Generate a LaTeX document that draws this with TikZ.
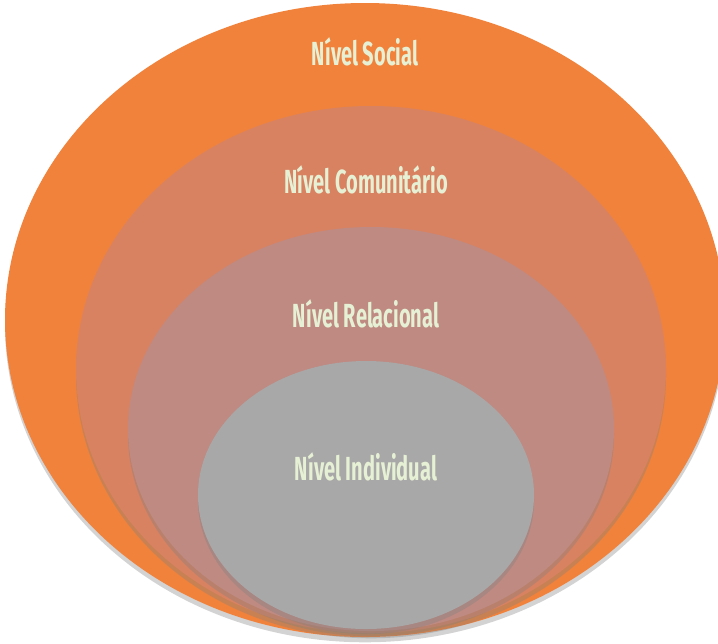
\documentclass[tikz,border=0pt]{standalone}
\usepackage{fontspec}
\newfontfamily\levelfont[FakeStretch=0.6]{Fira Sans}
\usetikzlibrary{shadows}

\definecolor{socialfill}{RGB}{240,130,60}
\definecolor{communityfill}{RGB}{216,130,98}
\definecolor{relationfill}{RGB}{190,138,130}
\definecolor{individualfill}{RGB}{168,168,168}
\definecolor{labeltext}{RGB}{230,240,212}

\begin{document}
\begin{tikzpicture}[
    level/.style={drop shadow={opacity=0.35, shadow xshift=0pt, shadow yshift=-3pt}},
    levellabel/.style={font=\levelfont\bfseries\fontsize{19}{21}\selectfont, text=labeltext}
  ]
  \useasboundingbox (0,0) rectangle (14.36,-12.86);

  % nested levels, outermost first
  \fill[socialfill, level] (7.30,-6.40) ellipse [x radius=7.20, y radius=6.34];
  \fill[communityfill, level] (7.42,-7.39) ellipse [x radius=5.90, y radius=5.27];
  \fill[relationfill, level] (7.42,-8.58) ellipse [x radius=4.86, y radius=4.04];
  \fill[individualfill, level] (7.32,-9.90) ellipse [x radius=3.36, y radius=2.68];

  \node[levellabel] (social) at (7.30,-1.04) {Nível Social};
  \node[levellabel] (community) at (7.32,-3.60) {Nível Comunitário};
  \node[levellabel] (relational) at (7.32,-6.28) {Nível Relacional};
  \node[levellabel] (individual) at (7.32,-9.34) {Nível Individual};
\end{tikzpicture}
\end{document}
